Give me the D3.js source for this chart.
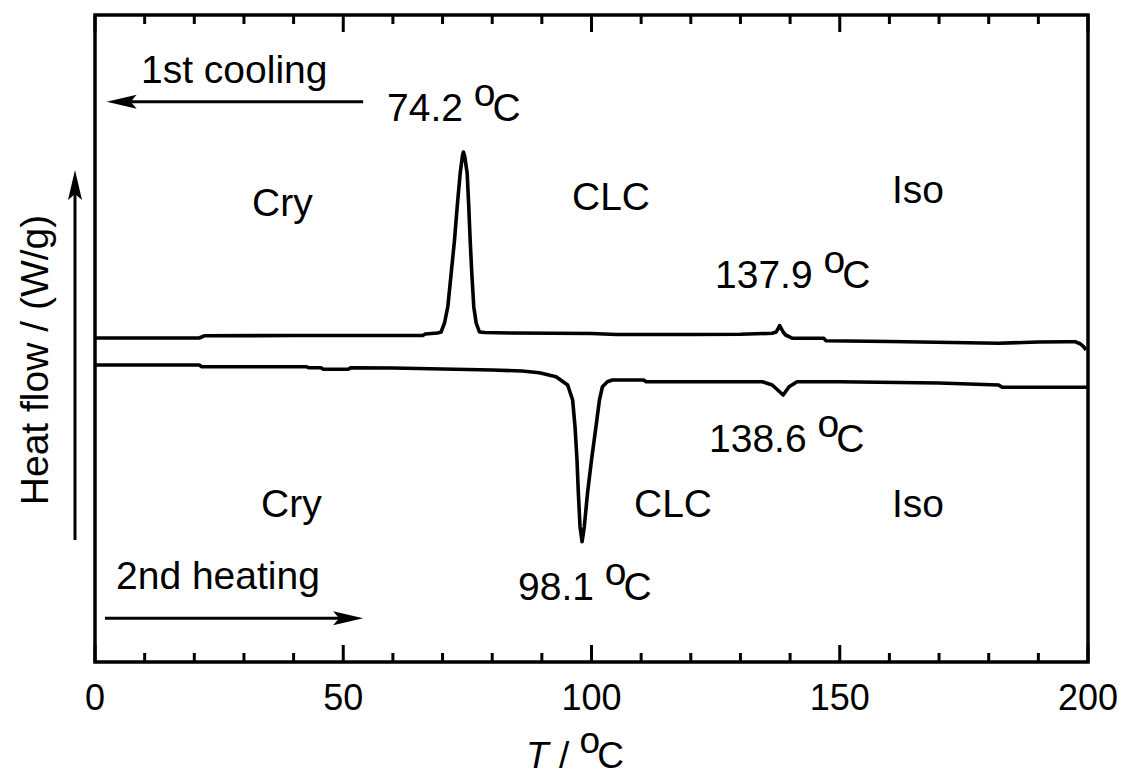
<!DOCTYPE html>
<html>
<head>
<meta charset="utf-8">
<script src="https://cdn.jsdelivr.net/npm/d3@7"></script>
<style>
  html, body { margin: 0; padding: 0; background: #fff; }
  svg { display: block; }
  text { font-family: "Liberation Sans", Arial, sans-serif; fill: #000; }
</style>
</head>
<body>
<svg id="chart" width="1124" height="776"></svg>
<script>
// DSC thermogram: 1st cooling (exotherm up) and 2nd heating (endotherm down)
const coolingT = [0, 21, 22, 40, 60, 66, 66.5, 69.0, 69.7, 70.4, 71.06, 71.74, 72.41, 72.95, 73.55, 74.0, 74.2,
  74.45, 74.96, 75.28, 75.56, 75.89, 76.29, 76.77, 77.43, 78.5, 84, 100, 105, 120, 130, 136.4, 137.2, 137.9,
  138.6, 139.1, 140.5, 146.8, 147.2, 160, 182, 190, 195.8, 197.4, 198.5, 199.1, 199.6];
const coolingHF = [3.24, 3.24, 3.262, 3.265, 3.265, 3.265, 3.28, 3.29, 3.30, 3.39, 3.553, 3.887, 4.22, 4.553, 4.887, 5.06, 5.10,
  5.06, 4.887, 4.553, 4.22, 3.887, 3.553, 3.39, 3.30, 3.295, 3.29, 3.285, 3.275, 3.275, 3.278, 3.287, 3.30, 3.363,
  3.30, 3.27, 3.237, 3.237, 3.213, 3.205, 3.187, 3.20, 3.203, 3.203, 3.18, 3.153, 3.12];

const heatingT = [0, 21, 21.5, 42.5, 43, 45.5, 46, 51, 51.5, 60, 70, 80, 86, 89.5, 92.86, 95.2, 96.2, 96.68, 97.08,
  97.35, 97.69, 98.1, 98.55, 99.2, 100.0, 100.9, 101.6, 102.2, 103.2, 104.2, 110.5, 111, 129.7, 134.4, 136.4,
  137.5, 138.6, 139.8, 141.4, 149.8, 170, 182, 182.7, 199.8];
const heatingHF = [2.97, 2.97, 2.953, 2.953, 2.943, 2.943, 2.927, 2.927, 2.943, 2.94, 2.93, 2.92, 2.91, 2.893, 2.853, 2.77, 2.62, 2.353, 2.02,
  1.69, 1.353, 1.203, 1.353, 1.69, 2.02, 2.353, 2.62, 2.753, 2.803, 2.82, 2.82, 2.803, 2.803, 2.803, 2.77,
  2.72, 2.67, 2.753, 2.803, 2.803, 2.79, 2.77, 2.747, 2.747];

const xTicksMajor = [0, 50, 100, 150, 200];
const xTicksMinor = [10, 20, 30, 40, 60, 70, 80, 90, 110, 120, 130, 140, 160, 170, 180, 190];

const peakTemps = ["74.2", "137.9", "138.6", "98.1"];
const phaseLabels = ["Cry", "CLC", "Iso"];

const svg = d3.select("#chart");
const margin = { left: 95, right: 36, top: 15, bottom: 114 };
const W = 1124, H = 776;

const x = d3.scaleLinear().domain([0, 200]).range([margin.left, W - margin.right]);
const y = d3.scaleLinear().domain([0, 6.47]).range([H - margin.bottom, margin.top]);

const line = d3.line().x(d => x(d[0])).y(d => y(d[1]));

const cooling = coolingT.map((t, i) => [t, coolingHF[i]]);
const heating = heatingT.map((t, i) => [t, heatingHF[i]]);

// curves
[cooling, heating].forEach(data => {
  svg.append("path")
    .datum(data)
    .attr("d", line)
    .attr("fill", "none")
    .attr("stroke", "#000")
    .attr("stroke-width", 3.6)
    .attr("stroke-linejoin", "round");
});

// bottom and top axes with inward ticks
const yBottom = y.range()[0], yTop = y.range()[1];
const axisG = svg.append("g");
function drawTicks(vals, len) {
  vals.forEach(v => {
    axisG.append("line").attr("x1", x(v)).attr("x2", x(v)).attr("y1", yBottom).attr("y2", yBottom - len)
      .attr("stroke", "#000").attr("stroke-width", 3);
    axisG.append("line").attr("x1", x(v)).attr("x2", x(v)).attr("y1", yTop).attr("y2", yTop + len)
      .attr("stroke", "#000").attr("stroke-width", 3);
  });
}
drawTicks(xTicksMajor, 17);
drawTicks(xTicksMinor, 9);

// frame
svg.append("rect")
  .attr("x", x(0)).attr("y", yTop)
  .attr("width", x(200) - x(0)).attr("height", yBottom - yTop)
  .attr("fill", "none").attr("stroke", "#000").attr("stroke-width", 3.5);

// tick labels
svg.append("g").selectAll("text").data(xTicksMajor).join("text")
  .attr("x", d => x(d)).attr("y", 710)
  .attr("text-anchor", "middle")
  .attr("font-size", 36)
  .text(d => d);

// axis titles
const xt = svg.append("text").attr("x", 575).attr("y", 768).attr("text-anchor", "middle").attr("font-size", 37);
xt.append("tspan").attr("font-style", "italic").text("T");
xt.append("tspan").text(" / ");
xt.append("tspan").attr("dy", -15).text("o");
xt.append("tspan").attr("dy", 15).attr("dx", -3).text("C");

svg.append("text")
  .attr("transform", "translate(48,360) rotate(-90)")
  .attr("text-anchor", "middle")
  .attr("font-size", 39)
  .text("Heat flow / (W/g)");

// temperature annotations
function tempLabel(str, px, py) {
  const t = svg.append("text").attr("x", px).attr("y", py).attr("font-size", 39);
  t.append("tspan").text(str + " ");
  t.append("tspan").attr("dy", -15).text("o");
  t.append("tspan").attr("dy", 15).attr("dx", -3).text("C");
}
tempLabel(peakTemps[0], 387, 121);
tempLabel(peakTemps[1], 715, 288);
tempLabel(peakTemps[2], 709, 452);
tempLabel(peakTemps[3], 518, 600);

// phase labels
const phasePos = [
  [252, 216], [572, 210], [892, 203],
  [261, 517], [634, 517], [892, 517]
];
phasePos.forEach((p, i) => {
  svg.append("text").attr("x", p[0]).attr("y", p[1]).attr("font-size", 39).text(phaseLabels[i % 3]);
});

// scan direction labels
svg.append("text").attr("x", 141).attr("y", 83).attr("font-size", 39).text("1st cooling");
svg.append("text").attr("x", 116).attr("y", 589).attr("font-size", 39).text("2nd heating");

// arrows
function arrow(x1, y1, x2, y2) {
  const ang = Math.atan2(y2 - y1, x2 - x1);
  const L = 30, Wd = 7, notch = 24;
  const bx = x2 - L * Math.cos(ang), by = y2 - L * Math.sin(ang);
  const nx = x2 - notch * Math.cos(ang), ny = y2 - notch * Math.sin(ang);
  const px = -Math.sin(ang), py = Math.cos(ang);
  svg.append("line").attr("x1", x1).attr("y1", y1).attr("x2", nx).attr("y2", ny)
    .attr("stroke", "#000").attr("stroke-width", 3);
  svg.append("path")
    .attr("d", `M${x2},${y2}L${bx + px * Wd},${by + py * Wd}L${nx},${ny}L${bx - px * Wd},${by - py * Wd}Z`)
    .attr("fill", "#000");
}
arrow(x(54), y(5.603), x(2.35), y(5.603));
arrow(x(2.0), y(0.437), x(54), y(0.437));
arrow(75, 540, 75, 170);
</script>
</body>
</html>
